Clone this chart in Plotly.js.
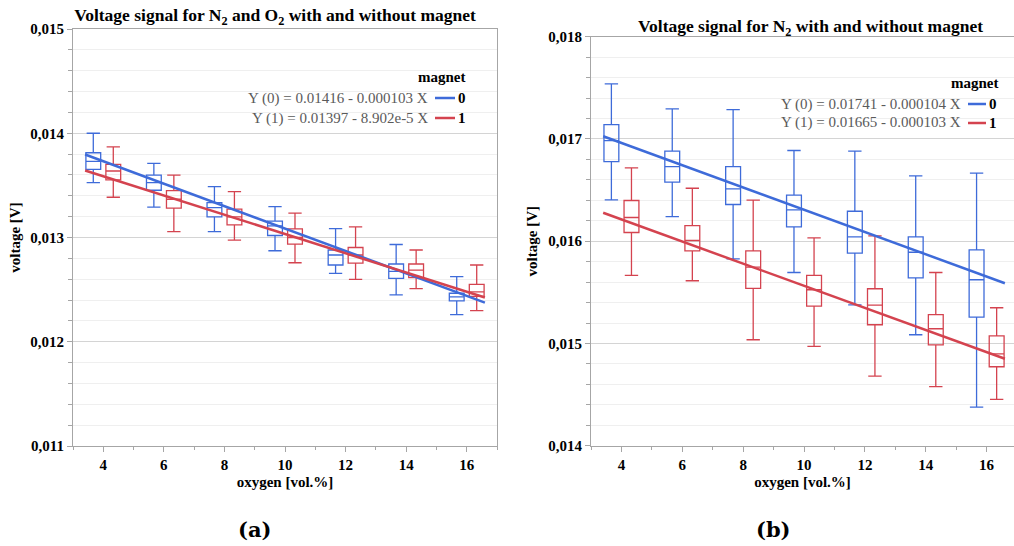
<!DOCTYPE html>
<html><head><meta charset="utf-8">
<script src="https://cdn.plot.ly/plotly-3.0.1.min.js"></script>
<style>html,body{margin:0;padding:0;background:#fff;} #chart{width:1014px;height:546px;}</style>
</head><body><div id="chart"></div>
<script>
const oxygen = [4, 6, 8, 10, 12, 14, 16];
const magnetLabels = ['0', '1'];

// Panel (a): N2 and O2
const aLower0  = [0.013526, 0.013291, 0.013057, 0.012873, 0.012656, 0.012449, 0.012261];
const aQ1_0    = [0.013654, 0.013453, 0.013198, 0.013019, 0.012736, 0.012608, 0.012392];
const aMed0    = [0.013730, 0.013526, 0.013287, 0.013112, 0.012832, 0.012675, 0.012430];
const aQ3_0    = [0.013813, 0.013599, 0.013335, 0.013157, 0.012880, 0.012746, 0.012465];
const aUpper0  = [0.014000, 0.013711, 0.013488, 0.013296, 0.013086, 0.012933, 0.012624];

const aLower1  = [0.013386, 0.013057, 0.012975, 0.012758, 0.012598, 0.012510, 0.012299];
const aQ1_1    = [0.013552, 0.013281, 0.013121, 0.012936, 0.012755, 0.012615, 0.012436];
const aMed1    = [0.013638, 0.013367, 0.013198, 0.013000, 0.012832, 0.012688, 0.012478];
const aQ3_1    = [0.013702, 0.013449, 0.013272, 0.013083, 0.012904, 0.012746, 0.012551];
const aUpper1  = [0.013870, 0.013599, 0.013440, 0.013233, 0.013102, 0.012880, 0.012736];

// Panel (b): N2
const bLower0  = [0.016405, 0.016241, 0.015828, 0.015694, 0.015378, 0.015085, 0.014377];
const bQ1_0    = [0.016779, 0.016577, 0.016359, 0.016141, 0.015883, 0.015642, 0.015257];
const bMed0    = [0.016984, 0.016730, 0.016512, 0.016307, 0.016043, 0.015892, 0.015623];
const bQ3_0    = [0.017141, 0.016880, 0.016730, 0.016450, 0.016293, 0.016043, 0.015916];
const bUpper0  = [0.017539, 0.017294, 0.017287, 0.016887, 0.016880, 0.016639, 0.016665];

const bLower1  = [0.015665, 0.015613, 0.015036, 0.014971, 0.014680, 0.014577, 0.014453];
const bQ1_1    = [0.016085, 0.015906, 0.015538, 0.015365, 0.015183, 0.014987, 0.014772];
const bMed1    = [0.016232, 0.016007, 0.015746, 0.015525, 0.015374, 0.015144, 0.014899];
const bQ3_1    = [0.016398, 0.016153, 0.015906, 0.015665, 0.015535, 0.015281, 0.015075];
const bUpper1  = [0.016718, 0.016518, 0.016401, 0.016033, 0.016053, 0.015694, 0.015349];

// Regression fit lines (end points)
const fitX  = [3.4, 16.6];
const aFit0 = [0.013796, 0.012376];
const aFit1 = [0.013643, 0.012424];
const bFit0 = [0.017026, 0.015589];
const bFit1 = [0.016278, 0.014850];

const aEquations = ['Y (0) = 0.01416 - 0.000103 X', 'Y (1) = 0.01397 - 8.902e-5 X'];
const bEquations = ['Y (0) = 0.01741 - 0.000104 X', 'Y (1) = 0.01665 - 0.000103 X'];

const BLUE = '#3e6bd9';
const RED = '#d4434f';
const SERIF = '"Liberation Serif", serif';
const CAPTION = '"DejaVu Serif", serif';

function box(xa, ya, name, color, lo, q1, med, q3, up) {
  return {
    type: 'box', xaxis: xa, yaxis: ya, name: name, x: oxygen,
    lowerfence: lo, q1: q1, median: med, q3: q3, upperfence: up,
    line: {color: color, width: 1.3}, fillcolor: 'rgba(255,255,255,0)',
    whiskerwidth: 0.9, boxpoints: false, showlegend: false, offsetgroup: name
  };
}
function fit(xa, ya, name, color, y) {
  return {type: 'scatter', mode: 'lines', xaxis: xa, yaxis: ya, name: name,
    x: fitX, y: y, line: {color: color, width: 2.5}, showlegend: false};
}

const data = [
  box('x', 'y', magnetLabels[0], BLUE, aLower0, aQ1_0, aMed0, aQ3_0, aUpper0),
  box('x', 'y', magnetLabels[1], RED, aLower1, aQ1_1, aMed1, aQ3_1, aUpper1),
  fit('x', 'y', magnetLabels[0], BLUE, aFit0),
  fit('x', 'y', magnetLabels[1], RED, aFit1),
  box('x2', 'y2', magnetLabels[0], BLUE, bLower0, bQ1_0, bMed0, bQ3_0, bUpper0),
  box('x2', 'y2', magnetLabels[1], RED, bLower1, bQ1_1, bMed1, bQ3_1, bUpper1),
  fit('x2', 'y2', magnetLabels[0], BLUE, bFit0),
  fit('x2', 'y2', magnetLabels[1], RED, bFit1)
];

const tickFont = {family: SERIF, size: 15, color: '#000', weight: 'bold'};
const titleFont = {family: SERIF, size: 15, color: '#000', weight: 'bold'};

function xaxis(domain, range, anchor, mirror) {
  return {
    domain: domain, range: range, anchor: anchor, tickmode: 'linear', tick0: 0, dtick: 2,
    showgrid: false, zeroline: false, showline: true, linecolor: '#a6a6a6', linewidth: 1,
    mirror: mirror, ticks: 'outside', ticklen: 5, tickcolor: '#a6a6a6',
    tickfont: tickFont,
    minor: {dtick: 1, ticks: 'outside', ticklen: 3, tickcolor: '#a6a6a6', showgrid: false},
    title: {text: 'oxygen [vol.%]', font: titleFont, standoff: 4}
  };
}
function yaxis(domain, range, anchor, mirror) {
  return {
    domain: domain, range: range, anchor: anchor, tickmode: 'linear', dtick: 0.001,
    tickformat: '.3f', showgrid: true, gridcolor: '#d4d4d4', gridwidth: 1,
    zeroline: false, showline: true, linecolor: '#a6a6a6', linewidth: 1, mirror: mirror,
    ticks: 'outside', ticklen: 5, tickcolor: '#a6a6a6', tickfont: tickFont,
    minor: {dtick: 0.0002, ticks: 'outside', ticklen: 4, tickcolor: '#a6a6a6',
            showgrid: true, gridcolor: '#efefef', gridwidth: 1},
    title: {text: 'voltage [V]', font: titleFont, standoff: 6}
  };
}

const W = 1014, H = 546;
const px = v => v / W, py = v => 1 - v / H;

function legendBlock(magnetX, magnetY, eqRight, lineL, lineR, labelL, rowY, eqs) {
  const ann = [{xref: 'paper', yref: 'paper', x: px(magnetX), y: py(magnetY), xanchor: 'right', yanchor: 'middle',
    text: 'magnet', showarrow: false, font: {family: SERIF, size: 15, color: '#000', weight: 'bold'}}];
  const shp = [];
  const colors = [BLUE, RED];
  for (let i = 0; i < 2; i++) {
    ann.push({xref: 'paper', yref: 'paper', x: px(eqRight), y: py(rowY[i]), xanchor: 'right', yanchor: 'middle',
      text: eqs[i], showarrow: false, font: {family: SERIF, size: 15, color: '#5a5a5a'}});
    ann.push({xref: 'paper', yref: 'paper', x: px(labelL), y: py(rowY[i]), xanchor: 'left', yanchor: 'middle',
      text: magnetLabels[i], showarrow: false, font: {family: SERIF, size: 15, color: '#000', weight: 'bold'}});
    shp.push({type: 'line', xref: 'paper', yref: 'paper', x0: px(lineL), x1: px(lineR), y0: py(rowY[i]), y1: py(rowY[i]),
      line: {color: colors[i], width: 2.5}});
  }
  return {ann, shp};
}

const legA = legendBlock(468, 77, 430, 435, 455, 456, [98, 118], aEquations);
const legB = legendBlock(1001, 83, 963, 968, 986, 987, [104, 123], bEquations);

const layout = {
  width: W, height: H, margin: {l: 0, r: 0, t: 0, b: 0},
  paper_bgcolor: '#fff', plot_bgcolor: '#fff', separators: ',.',
  boxmode: 'group', boxgap: 0.34, boxgroupgap: 0.26, showlegend: false,
  font: {family: SERIF},
  title: {text: 'Voltage signal for N<sub>2</sub> and O<sub>2</sub> with and without magnet',
    x: px(275), y: py(15), xref: 'paper', yref: 'paper', xanchor: 'center', yanchor: 'middle',
    font: {family: SERIF, size: 17.5, color: '#000', weight: 'bold'}},
  xaxis: xaxis([px(73), px(497)], [3, 17], 'y', true),
  yaxis: yaxis([py(446), py(29)], [0.011, 0.015], 'x', true),
  xaxis2: xaxis([px(591), 1], [3, 16.9], 'y2', true),
  yaxis2: yaxis([py(445.7), py(36.7)], [0.014, 0.018], 'x2', false),
  annotations: [
    {xref: 'paper', yref: 'paper', x: px(810), y: py(27), xanchor: 'center', yanchor: 'middle', showarrow: false,
     text: 'Voltage signal for N<sub>2</sub> with and without magnet',
     font: {family: SERIF, size: 17.5, color: '#000', weight: 'bold'}},
    {xref: 'paper', yref: 'paper', x: px(254), y: py(529), xanchor: 'center', yanchor: 'middle', showarrow: false,
     text: '(a)', font: {family: CAPTION, size: 21, color: '#000', weight: 'bold'}},
    {xref: 'paper', yref: 'paper', x: px(773), y: py(529), xanchor: 'center', yanchor: 'middle', showarrow: false,
     text: '(b)', font: {family: CAPTION, size: 21, color: '#000', weight: 'bold'}}
  ].concat(legA.ann, legB.ann),
  shapes: legA.shp.concat(legB.shp)
};

Plotly.newPlot('chart', data, layout, {displayModeBar: false, staticPlot: true});
</script></body></html>
